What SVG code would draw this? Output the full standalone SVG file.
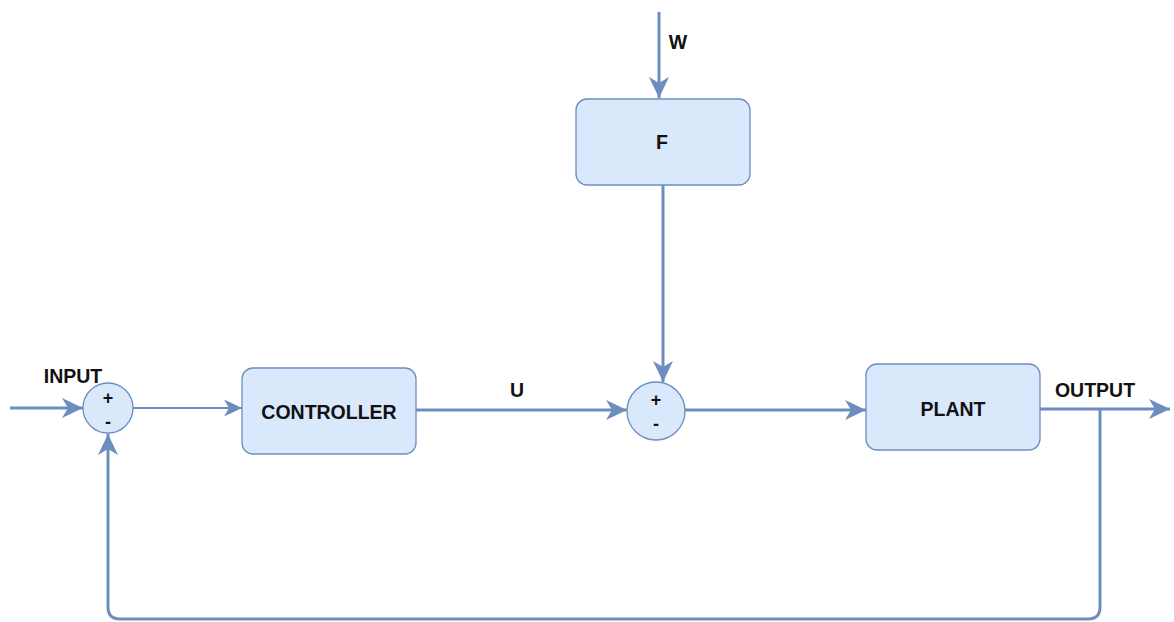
<svg xmlns="http://www.w3.org/2000/svg" width="1174" height="622" viewBox="0 0 1174 622">
  <style>
    .box { fill: #dae8fc; stroke: #6c8ebf; stroke-width: 1.3; }
    .wire { fill: none; stroke: #6c8ebf; stroke-width: 3; }
    .thin { stroke-width: 2; }
    .lbl { font-family: "Liberation Sans", Arial, sans-serif; font-weight: bold; font-size: 19.5px; fill: #111; text-anchor: middle; }
    .sign { font-size: 18px; }
  </style>
  <defs>
    <marker id="arrow" markerUnits="userSpaceOnUse" markerWidth="24" markerHeight="24" viewBox="-22 -12 24 24" refX="0" refY="0" orient="auto">
      <path d="M0,0 L-21,-10 L-15,0 L-21,10 Z" fill="#6c8ebf"/>
    </marker>
    <marker id="arrowSm" markerUnits="userSpaceOnUse" markerWidth="24" markerHeight="24" viewBox="-22 -12 24 24" refX="0" refY="0" orient="auto">
      <path d="M0,0 L-18,-8.5 L-13,0 L-18,8.5 Z" fill="#6c8ebf"/>
    </marker>
  </defs>

  <!-- connectors -->
  <g id="connectors">
    <path class="wire" d="M10,408 L83,408" marker-end="url(#arrow)"/>
    <path class="wire thin" d="M133,408 L242,408" marker-end="url(#arrowSm)"/>
    <path class="wire" d="M416,410 L627,410" marker-end="url(#arrow)"/>
    <path class="wire" d="M685,410 L866,410" marker-end="url(#arrow)"/>
    <path class="wire" d="M1040,409 L1170,409" marker-end="url(#arrow)"/>
    <path class="wire" d="M659,12 L659,98" marker-end="url(#arrow)"/>
    <path class="wire" d="M663,185 L663,382" marker-end="url(#arrow)"/>
    <path class="wire" d="M1100,409 L1100,607 Q1100,619 1088,619 L120,619 Q108,619 108,607 L108,434" marker-end="url(#arrow)"/>
  </g>

  <!-- nodes -->
  <g id="sum1">
    <circle class="box" cx="108" cy="408" r="25"/>
    <text class="lbl sign" x="108" y="404">+</text>
    <text class="lbl sign" x="108" y="428">-</text>
  </g>
  <g id="controller">
    <rect class="box" x="242" y="368" width="174" height="86" rx="11"/>
    <text class="lbl" x="329" y="419">CONTROLLER</text>
  </g>
  <g id="sum2">
    <circle class="box" cx="656" cy="411" r="29"/>
    <text class="lbl sign" x="656" y="406">+</text>
    <text class="lbl sign" x="656" y="430">-</text>
  </g>
  <g id="plant">
    <rect class="box" x="866" y="364" width="174" height="86" rx="11"/>
    <text class="lbl" x="953" y="416">PLANT</text>
  </g>
  <g id="f">
    <rect class="box" x="576" y="99" width="174" height="86" rx="11"/>
    <text class="lbl" x="662" y="149">F</text>
  </g>

  <!-- edge labels -->
  <g id="labels">
    <text class="lbl" x="73" y="383">INPUT</text>
    <text class="lbl" x="517" y="397">U</text>
    <text class="lbl" x="678" y="49">W</text>
    <text class="lbl" x="1095" y="397">OUTPUT</text>
  </g>
</svg>
